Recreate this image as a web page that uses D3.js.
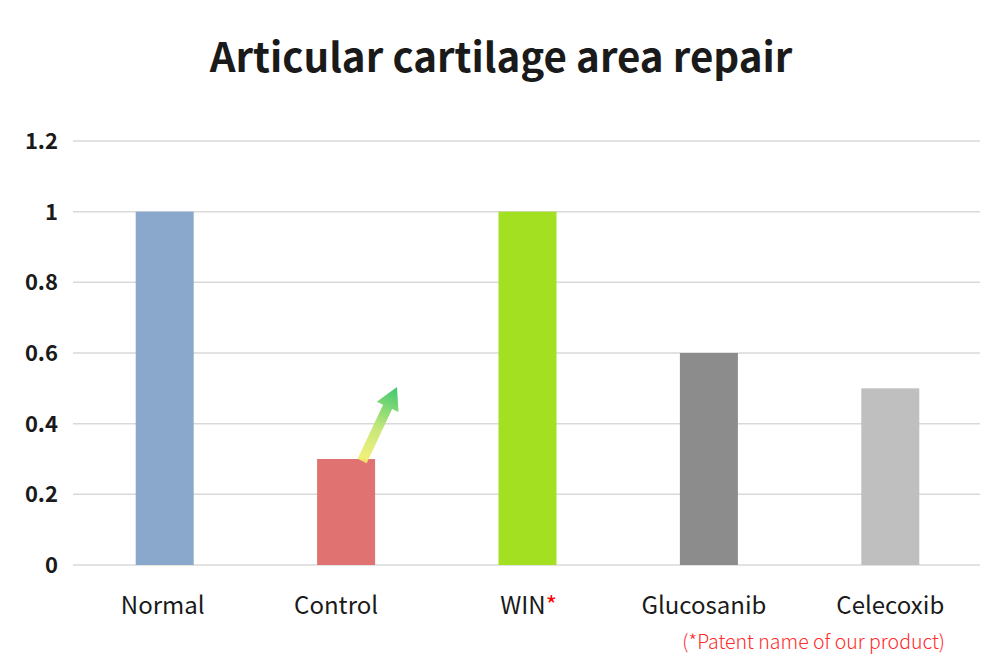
<!DOCTYPE html>
<html><head><meta charset="utf-8">
<script src="https://cdn.jsdelivr.net/npm/d3@7"></script>
<style>body{margin:0;background:#fff}svg{display:block}text{font-family:"Noto Sans CJK KR","Noto Sans",sans-serif}</style>
</head><body><svg id="c" width="1000" height="670"></svg>
<script>
const categories = ["Normal","Control","WIN","Glucosanib","Celecoxib"];
const values = [1, 0.3, 1, 0.6, 0.5];
const colors = ["#8aa8cc","#e07272","#a3e021","#8c8c8c","#bfbfbf"];
const yTicks = [0,0.2,0.4,0.6,0.8,1,1.2];
const yTickLabels = ["0","0.2","0.4","0.6","0.8","1","1.2"];

const svg = d3.select("#c");
const x = d3.scaleBand().domain(categories).range([74,981]);
const y = d3.scaleLinear().domain([0,1.2]).range([565,141]);
// small horizontal nudges of the category labels, as in the original
const labelNudge = {Normal:-2, Control:-10, WIN:1, Glucosanib:-5, Celecoxib:0};

svg.append("text").attr("x",501).attr("y",72).attr("text-anchor","middle")
  .attr("font-size",40.3).attr("font-weight",700).attr("fill","#1a1a1a").text("Articular cartilage area repair");

svg.append("g").selectAll("line").data(yTicks).join("line")
  .attr("x1",73).attr("x2",980).attr("y1",d=>y(d)).attr("y2",d=>y(d))
  .attr("stroke","#d9d9d9").attr("stroke-width",1.5);

svg.append("g").selectAll("text").data(yTicks).join("text")
  .attr("x",58).attr("y",d=>y(d)+8).attr("text-anchor","end")
  .attr("font-size",22).attr("font-weight",700).attr("fill","#1a1a1a")
  .text((d,i)=>yTickLabels[i]);

const bw = 58;
svg.append("g").selectAll("rect").data(values).join("rect")
  .attr("x",(d,i)=>x(categories[i])+x.bandwidth()/2-bw/2)
  .attr("width",bw).attr("y",d=>y(d)).attr("height",d=>y(0)-y(d))
  .attr("fill",(d,i)=>colors[i]);

const lab = svg.append("g").selectAll("text").data(categories).join("text")
  .attr("x",d=>x(d)+x.bandwidth()/2+labelNudge[d]).attr("y",614).attr("text-anchor","middle")
  .attr("font-size",24).attr("fill","#1a1a1a");
lab.each(function(d){
  const t=d3.select(this);
  if(d==="WIN"){ t.append("tspan").text("WIN"); t.append("tspan").attr("fill","#ff0000").text("*"); }
  else t.text(d);
});

svg.append("text").attr("x",945).attr("y",649).attr("text-anchor","end")
  .attr("font-size",19.5).attr("font-weight",300).attr("fill","#ff2a2a").text("(*Patent name of our product)");

// arrow from Control bar top
const defs = svg.append("defs");
const g = defs.append("linearGradient").attr("id","ag").attr("gradientUnits","userSpaceOnUse")
  .attr("x1",362).attr("y1",462).attr("x2",397).attr("y2",388);
g.append("stop").attr("offset","0").attr("stop-color","#f3f06a").attr("stop-opacity",0.9);
g.append("stop").attr("offset","0.45").attr("stop-color","#c6e87a");
g.append("stop").attr("offset","1").attr("stop-color","#3fc870");
const x0 = x("Control")+x.bandwidth()/2+16, y0 = y(0.3)+2;
const x1 = 397, y1 = 387;
const ang = Math.atan2(y1-y0, x1-x0);
const len = Math.hypot(x1-x0,y1-y0);
const sw=5, hw=12, hl=22;
const pts = [[0,-sw],[len-hl,-sw],[len-hl,-hw],[len,0],[len-hl,hw],[len-hl,sw],[0,sw]];
const tp = pts.map(([a,b])=>[x0+a*Math.cos(ang)-b*Math.sin(ang), y0+a*Math.sin(ang)+b*Math.cos(ang)]);
svg.append("polygon").attr("points",tp.map(p=>p.join(",")).join(" ")).attr("fill","url(#ag)");
</script></body></html>
